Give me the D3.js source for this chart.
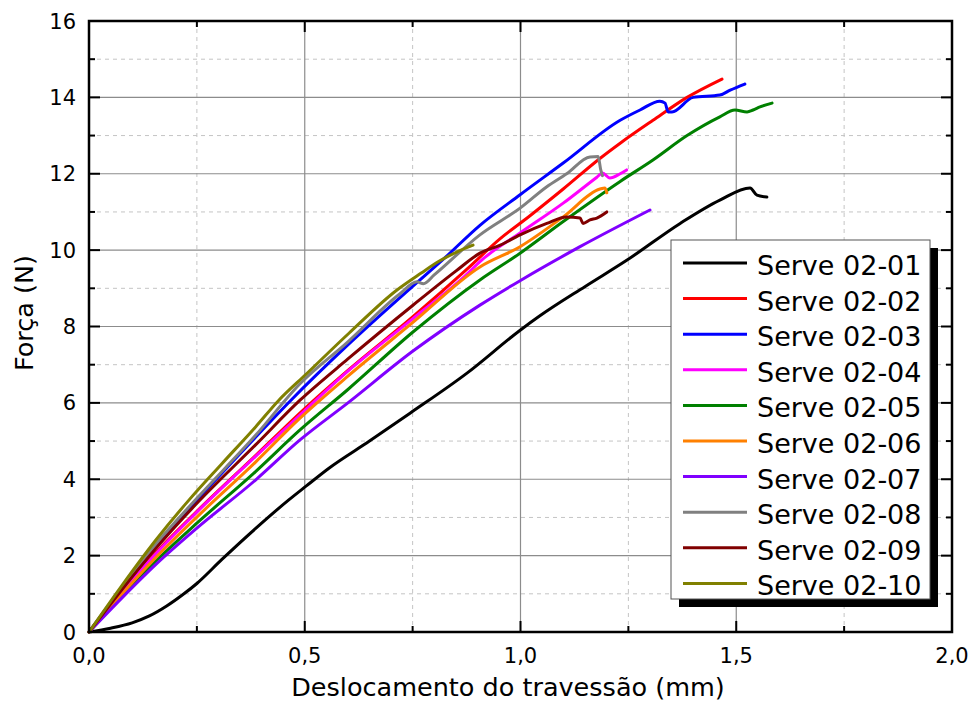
<!DOCTYPE html>
<html>
<head>
<meta charset="utf-8">
<script src="https://d3js.org/d3.v7.min.js"></script>
<style>
body { margin: 0; background: #fff; }
text { font-family: "DejaVu Sans", Verdana, sans-serif; fill: #000; }
</style>
</head>
<body>
<div id="graph"></div>
<script>
// series names + colours
var names = ["Serve 02-01", "Serve 02-02", "Serve 02-03", "Serve 02-04", "Serve 02-05",
             "Serve 02-06", "Serve 02-07", "Serve 02-08", "Serve 02-09", "Serve 02-10"];
var colors = ["#000000", "#ff0000", "#0000ff", "#ff00ff", "#008000",
              "#ff8000", "#8000ff", "#808080", "#800000", "#808000"];

// [deslocamento (mm), forca (N)]
var s01 = [[0,0],[0.05,0.1],[0.1,0.24],[0.14,0.42],[0.18,0.68],[0.22,1.0],[0.25,1.27],[0.308,1.9],[0.387,2.72],
           [0.463,3.46],[0.503,3.82],[0.556,4.29],[0.65,5.0],[0.744,5.73],[0.876,6.78],[1.0,7.91],
           [1.045,8.28],[1.15,9.05],[1.247,9.74],[1.37,10.7],[1.462,11.31],[1.532,11.63],[1.548,11.44],[1.571,11.39]];
var s02 = [[0,0],[0.077,1.07],[0.155,2.08],[0.25,3.16],[0.386,4.62],[0.5,5.85],[0.6,6.85],[0.75,8.25],
           [0.876,9.5],[0.953,10.3],[1.022,10.9],[1.099,11.6],[1.184,12.4],[1.231,12.8],[1.307,13.4],
           [1.386,14.0],[1.467,14.48]];
var s03 = [[0,0],[0.077,1.15],[0.155,2.25],[0.25,3.45],[0.386,5.1],[0.468,6.07],[0.603,7.55],[0.75,9.05],
           [0.82,9.75],[0.906,10.65],[0.999,11.45],[1.099,12.28],[1.231,13.4],[1.277,13.67],[1.323,13.9],
           [1.335,13.85],[1.342,13.62],[1.351,13.62],[1.40,14.0],[1.462,14.06],[1.486,14.19],[1.52,14.35]];
var s04 = [[0,0],[0.077,1.05],[0.155,2.05],[0.25,3.14],[0.386,4.6],[0.5,5.8],[0.6,6.83],[0.75,8.2],
           [0.876,9.37],[0.906,9.7],[0.999,10.45],[1.099,11.23],[1.177,11.91],[1.19,12.02],[1.207,11.89],
           [1.231,12.0],[1.246,12.1]];
var s05 = [[0,0],[0.077,0.95],[0.155,1.86],[0.25,2.85],[0.386,4.2],[0.489,5.29],[0.6,6.35],[0.75,7.85],
           [0.906,9.22],[0.999,9.92],[1.099,10.75],[1.231,11.8],[1.307,12.36],[1.386,13.0],[1.462,13.49],
           [1.497,13.67],[1.525,13.62],[1.539,13.67],[1.555,13.75],[1.583,13.85]];
var s06 = [[0,0],[0.077,1.0],[0.155,1.95],[0.25,3.01],[0.386,4.45],[0.489,5.6],[0.6,6.7],[0.75,8.1],
           [0.906,9.56],[0.999,10.09],[1.099,10.87],[1.184,11.6],[1.196,11.63],[1.2,11.5]];
var s07 = [[0,0],[0.077,0.9],[0.155,1.77],[0.25,2.72],[0.386,3.98],[0.489,5.03],[0.6,6.0],[0.75,7.35],
           [0.906,8.56],[0.999,9.2],[1.138,10.09],[1.30,11.05]];
var s08 = [[0,0],[0.077,1.18],[0.155,2.3],[0.25,3.5],[0.386,5.15],[0.489,6.5],[0.6,7.6],[0.72,8.85],
           [0.76,9.17],[0.775,9.12],[0.8,9.35],[0.906,10.4],[0.999,11.1],[1.061,11.66],[1.107,12.0],
           [1.161,12.44],[1.18,12.45],[1.186,12.1],[1.19,11.95]];
var s09 = [[0,0],[0.077,1.12],[0.155,2.19],[0.25,3.37],[0.386,4.9],[0.489,6.07],[0.6,7.15],[0.75,8.55],
           [0.85,9.45],[0.906,9.92],[0.953,10.13],[0.999,10.4],[1.061,10.7],[1.107,10.87],[1.138,10.84],
           [1.145,10.7],[1.161,10.79],[1.177,10.84],[1.2,11.0]];
var s10 = [[0,0],[0.077,1.23],[0.155,2.41],[0.232,3.46],[0.309,4.42],[0.386,5.37],[0.44,6.07],[0.503,6.75],
           [0.603,7.83],[0.713,8.95],[0.77,9.4],[0.81,9.7],[0.852,9.95],[0.89,10.13]];
var series = [s01, s02, s03, s04, s05, s06, s07, s08, s09, s10];

var xTicks = [0, 0.5, 1.0, 1.5, 2.0];
var xMinor = [0.25, 0.75, 1.25, 1.75];
var yTicks = [0, 2, 4, 6, 8, 10, 12, 14, 16];
var yMinor = [1, 3, 5, 7, 9, 11, 13, 15];

var margin = {top: 21, right: 24, bottom: 72, left: 89},
    width = 976 - margin.left - margin.right,
    height = 704 - margin.top - margin.bottom;

var svg = d3.select("#graph").append("svg")
    .attr("width", 976)
    .attr("height", 704);
var g = svg.append("g")
    .attr("transform", "translate(" + margin.left + "," + margin.top + ")");

var x = d3.scaleLinear().domain([0, 2]).range([0, width]);
var y = d3.scaleLinear().domain([0, 16]).range([height, 0]);

// grid
g.selectAll(".gxm").data(xMinor).enter().append("line")
    .attr("x1", d => x(d)).attr("x2", d => x(d)).attr("y1", 0).attr("y2", height)
    .attr("stroke", "#c4c4c4").attr("stroke-dasharray", "4,4");
g.selectAll(".gym").data(yMinor).enter().append("line")
    .attr("y1", d => y(d)).attr("y2", d => y(d)).attr("x1", 0).attr("x2", width)
    .attr("stroke", "#c4c4c4").attr("stroke-dasharray", "4,4");
g.selectAll(".gx").data(xTicks.slice(1, -1)).enter().append("line")
    .attr("x1", d => x(d)).attr("x2", d => x(d)).attr("y1", 0).attr("y2", height)
    .attr("stroke", "#8c8c8c").attr("stroke-width", 1.2);
g.selectAll(".gy").data(yTicks.slice(1, -1)).enter().append("line")
    .attr("y1", d => y(d)).attr("y2", d => y(d)).attr("x1", 0).attr("x2", width)
    .attr("stroke", "#8c8c8c").attr("stroke-width", 1.2);

// curves
var line = d3.line().curve(d3.curveMonotoneX).x(d => x(d[0])).y(d => y(d[1]));
series.forEach(function(s, i) {
    g.append("path")
        .datum(s)
        .attr("d", line)
        .attr("fill", "none")
        .attr("stroke", colors[i])
        .attr("stroke-width", 3)
        .attr("stroke-linejoin", "round")
        .attr("stroke-linecap", "round");
});

// inward ticks on all four sides
function ticks(vals, len) {
    g.selectAll(null).data(vals).enter().append("line")
        .attr("x1", d => x(d)).attr("x2", d => x(d)).attr("y1", height).attr("y2", height - len)
        .attr("stroke", "#000").attr("stroke-width", 2);
    g.selectAll(null).data(vals).enter().append("line")
        .attr("x1", d => x(d)).attr("x2", d => x(d)).attr("y1", 0).attr("y2", len)
        .attr("stroke", "#000").attr("stroke-width", 2);
}
function yticks(vals, len) {
    g.selectAll(null).data(vals).enter().append("line")
        .attr("y1", d => y(d)).attr("y2", d => y(d)).attr("x1", 0).attr("x2", len)
        .attr("stroke", "#000").attr("stroke-width", 2);
    g.selectAll(null).data(vals).enter().append("line")
        .attr("y1", d => y(d)).attr("y2", d => y(d)).attr("x1", width).attr("x2", width - len)
        .attr("stroke", "#000").attr("stroke-width", 2);
}
ticks(xTicks, 11); ticks(xMinor, 6);
yticks(yTicks, 11); yticks(yMinor, 6);

// frame
g.append("rect")
    .attr("width", width).attr("height", height)
    .attr("fill", "none").attr("stroke", "#000").attr("stroke-width", 2.5);

// tick labels
g.selectAll(".xl").data(xTicks).enter().append("text")
    .attr("x", d => x(d)).attr("y", height + 31)
    .attr("text-anchor", "middle").style("font-size", "21px")
    .text(d => d3.format(".1f")(d).replace(".", ","));
g.selectAll(".yl").data(yTicks).enter().append("text")
    .attr("x", -13).attr("y", d => y(d)).attr("dy", "0.36em")
    .attr("text-anchor", "end").style("font-size", "21px")
    .text(d => d);

// axis titles
svg.append("text")
    .attr("x", 508).attr("y", 696)
    .attr("text-anchor", "middle").style("font-size", "25.5px")
    .text("Deslocamento do travessão (mm)");
svg.append("text")
    .attr("transform", "translate(33,313) rotate(-90)")
    .attr("text-anchor", "middle").style("font-size", "25.5px")
    .text("Força (N)");

// legend
var lg = svg.append("g").attr("transform", "translate(671,240)");
lg.append("rect").attr("x", 8).attr("y", 8).attr("width", 259).attr("height", 359).attr("fill", "#000");
lg.append("rect").attr("width", 259).attr("height", 359)
    .attr("fill", "#fff").attr("stroke", "#555").attr("stroke-width", 1);
var rows = lg.selectAll(".row").data(names).enter().append("g")
    .attr("transform", (d, i) => "translate(0," + (23 + i * 35.6) + ")");
rows.append("line")
    .attr("x1", 12).attr("x2", 76)
    .attr("stroke", (d, i) => colors[i]).attr("stroke-width", 3);
rows.append("text")
    .attr("x", 86).attr("y", 12)
    .style("font-size", "27px")
    .text(d => d);
</script>
</body>
</html>
